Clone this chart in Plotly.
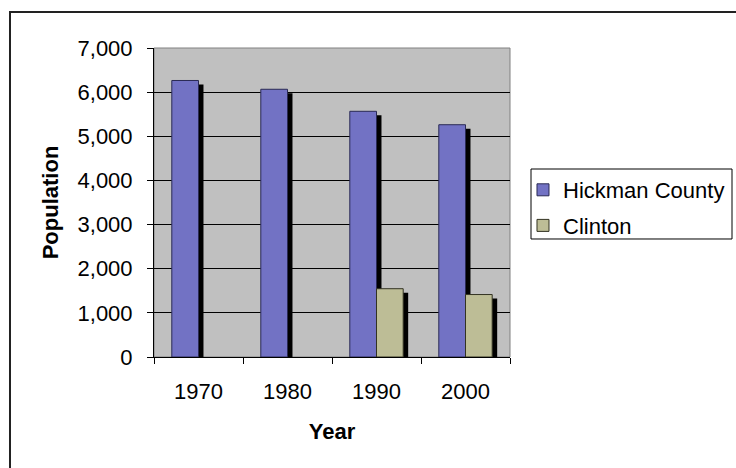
import plotly.graph_objects as go

years = ["1970", "1980", "1990", "2000"]
hickman = [6264, 6065, 5566, 5262]
clinton = [None, None, 1547, 1415]
series_names = ["Hickman County", "Clinton"]
y_ticks = [0, 1000, 2000, 3000, 4000, 5000, 6000, 7000]

FONT = "Liberation Sans, Arial, sans-serif"
FS = 22
BAR_W = 0.3
SH_DX = 0.056
SH_DY = -91

fig = go.Figure()

# shadows
for vals, off in [(hickman, -BAR_W), (clinton, 0.0)]:
    fig.add_trace(go.Bar(x=years, y=vals, base=SH_DY, width=BAR_W, offset=off + SH_DX,
                         marker=dict(color="black", line=dict(width=0)),
                         showlegend=False, hoverinfo="skip"))

fig.add_trace(go.Bar(x=years, y=hickman, name=series_names[0], width=BAR_W, offset=-BAR_W,
                     marker=dict(color="#7272C4", line=dict(color="#2A2A55", width=1)),
                     legendgroup="a"))
fig.add_trace(go.Bar(x=years, y=clinton, name=series_names[1], width=BAR_W, offset=0.0,
                     marker=dict(color="#BDBD96", line=dict(color="#333322", width=1)),
                     legendgroup="b"))

# plot area border (gray), legend box, chart outer border
fig.add_shape(type="rect", xref="paper", yref="paper", x0=0, x1=1, y0=0, y1=1,
              line=dict(color="#808080", width=1), layer="below")
fig.add_shape(type="rect", xref="paper", yref="paper", x0=1.059, x1=1.6236, y0=0.3819, y1=0.6084,
              line=dict(color="black", width=1), fillcolor="white", layer="below")
fig.add_shape(type="rect", xref="paper", yref="paper", x0=-0.4045, x1=1.8, y0=-0.6, y1=1.1165,
              line=dict(color="#222222", width=2))

fig.update_layout(
    width=736, height=468,
    margin=dict(l=154, r=226, t=48, b=111, autoexpand=False),
    paper_bgcolor="white", plot_bgcolor="#C0C0C0",
    barmode="overlay",
    font=dict(family=FONT, size=FS, color="black"),
    legend=dict(x=1.0365, y=0.6084, xanchor="left", yanchor="top",
                borderwidth=0, bgcolor="rgba(0,0,0,0)",
                font=dict(size=FS), tracegroupgap=4, traceorder="grouped"),
    xaxis=dict(type="category", tickson="boundaries", ticks="outside", ticklen=6,
               tickcolor="black", showline=True, linecolor="black", linewidth=1,
               showgrid=False, ticklabelstandoff=15,
               title=dict(text="<b>Year</b>", standoff=20, font=dict(size=FS)),
               automargin=False),
    yaxis=dict(range=[0, 7000], tickvals=y_ticks, tickformat=",", ticks="outside",
               ticklen=6, tickcolor="black", showline=True, linecolor="black", linewidth=1,
               showgrid=True, gridcolor="black", gridwidth=1, zeroline=False,
               ticklabelstandoff=10,
               title=dict(text="<b>Population</b>", standoff=12, font=dict(size=FS)),
               automargin=False),
)

fig.write_html("out.html", config={"displayModeBar": False},
               post_script="document.body.style.margin='0px';document.body.style.overflow='hidden';")
